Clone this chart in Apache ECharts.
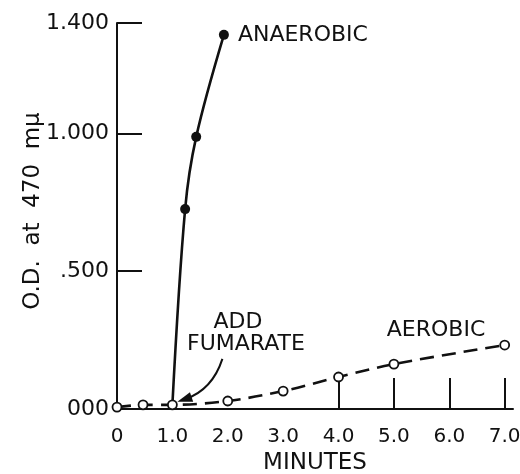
<!DOCTYPE html>
<html>
<head>
<meta charset="utf-8">
<script src="https://cdn.jsdelivr.net/npm/echarts@6/dist/echarts.min.js"></script>
<style>
  html, body { margin: 0; padding: 0; background: #fff; }
  #chart { width: 520px; height: 474px; }
</style>
</head>
<body>
<div id="chart"></div>
<script>
// axis ticks / labels
const xTicks = [0, 1, 2, 3, 4, 5, 6, 7]
const xTickLabels = ['0', '1.0', '2.0', '3.0', '4.0', '5.0', '6.0', '7.0']
const xTickMarks = [4, 5, 6, 7]
const yTicks = [0, 0.5, 1.0, 1.4]
const yTickLabels = ['000', '.500', '1.000', '1.400']

// aerobic (open circles, dashed)
const aerobicMin = [0, 0.47, 1.0, 2.0, 3.0, 4.0, 5.0, 7.0]
const aerobicOD = [0.007, 0.015, 0.015, 0.029, 0.065, 0.116, 0.163, 0.232]

// anaerobic (filled dots, solid) - starts where fumarate is added
const anaerobicMin = [1.0, 1.23, 1.43, 1.93]
const anaerobicOD = [0.015, 0.725, 0.987, 1.357]

const ink = '#111'
const font = 'DejaVu Sans'

const chart = echarts.init(document.getElementById('chart'))

const anaerobicData = anaerobicMin.map((x, i) => {
  const item = { value: [x, anaerobicOD[i]] }
  if (i === 0) item.symbol = 'none'
  if (i === anaerobicMin.length - 1) {
    item.label = {
      show: true,
      position: 'right',
      distance: 9,
      formatter: 'ANAEROBIC',
      color: ink,
      fontFamily: font,
      fontSize: 22
    }
  }
  return item
})

const aerobicData = aerobicMin.map((x, i) => [x, aerobicOD[i]])

const option = {
  animation: false,
  backgroundColor: '#fff',
  grid: { left: 117, right: 7, top: 23, bottom: 65, outerBoundsMode: 'none' },
  xAxis: {
    type: 'value',
    min: 0,
    max: 7.15,
    name: 'MINUTES',
    nameLocation: 'middle',
    nameGap: 43,
    nameTextStyle: { color: ink, fontFamily: font, fontSize: 23 },
    axisLine: { show: true, lineStyle: { color: ink, width: 2 } },
    axisTick: {
      show: true,
      inside: true,
      length: 31,
      customValues: xTickMarks,
      lineStyle: { color: ink, width: 2 }
    },
    axisLabel: {
      customValues: xTicks,
      formatter: v => xTickLabels[xTicks.indexOf(v)],
      color: ink,
      fontFamily: font,
      fontSize: 20,
      margin: 18
    },
    splitLine: { show: false }
  },
  yAxis: {
    type: 'value',
    min: 0,
    max: 1.4,
    name: 'O.D.  at  470  mμ',
    nameLocation: 'middle',
    nameRotate: 90,
    nameGap: 72,
    nameMoveOverlap: false,
    nameTextStyle: { color: ink, fontFamily: font, fontSize: 23, padding: [0, 0, 0, 10] },
    axisLine: { show: true, lineStyle: { color: ink, width: 2 } },
    axisTick: {
      show: true,
      inside: true,
      length: 25,
      customValues: yTicks.slice(1),
      lineStyle: { color: ink, width: 2 }
    },
    axisLabel: {
      customValues: yTicks,
      formatter: v => yTickLabels[yTicks.indexOf(v)],
      color: ink,
      fontFamily: font,
      fontSize: 22,
      margin: 8
    },
    splitLine: { show: false }
  },
  series: [
    {
      name: 'Anaerobic',
      type: 'line',
      data: anaerobicData,
      smooth: 0.35,
      symbol: 'circle',
      symbolSize: 10,
      itemStyle: { color: ink },
      lineStyle: { color: ink, width: 2.6 },
      z: 2
    },
    {
      name: 'Aerobic',
      type: 'line',
      data: aerobicData,
      smooth: 0.3,
      symbol: 'circle',
      symbolSize: 9,
      itemStyle: { color: '#fff', borderColor: ink, borderWidth: 1.8 },
      lineStyle: { color: ink, width: 2.6, type: [14, 8] },
      z: 3
    }
  ]
}
chart.setOption(option)

// annotations: arrow to the fumarate point, text labels
const tip = chart.convertToPixel({ xAxisIndex: 0, yAxisIndex: 0 }, [aerobicMin[2], aerobicOD[2]])
const tx = tip[0] + 5
const ty = tip[1] - 3
const sx = tx + 45
const sy = ty - 43
const cx = tx + 35
const cy = ty - 12
// arrow head direction
const dx = tx - cx
const dy = ty - cy
const len = Math.sqrt(dx * dx + dy * dy)
const ux = dx / len
const uy = dy / len
const hl = 15
const hw = 5

chart.setOption({
  graphic: [
    {
      type: 'bezierCurve',
      shape: { x1: sx, y1: sy, x2: tx - ux * 8, y2: ty - uy * 8, cpx1: cx, cpy1: cy },
      style: { stroke: ink, lineWidth: 2, fill: null },
      z: 10
    },
    {
      type: 'polygon',
      shape: {
        points: [
          [tx, ty],
          [tx - ux * hl - uy * hw, ty - uy * hl + ux * hw],
          [tx - ux * hl + uy * hw, ty - uy * hl - ux * hw]
        ]
      },
      style: { fill: ink },
      z: 10
    },
    {
      type: 'text',
      x: 238,
      y: 322,
      style: { text: 'ADD', fill: ink, font: '22px "DejaVu Sans"', align: 'center', verticalAlign: 'middle' },
      z: 10
    },
    {
      type: 'text',
      x: 246,
      y: 344,
      style: { text: 'FUMARATE', fill: ink, font: '22px "DejaVu Sans"', align: 'center', verticalAlign: 'middle' },
      z: 10
    },
    {
      type: 'text',
      x: 436,
      y: 330,
      style: { text: 'AEROBIC', fill: ink, font: '22px "DejaVu Sans"', align: 'center', verticalAlign: 'middle' },
      z: 10
    }
  ]
})
</script>
</body>
</html>
